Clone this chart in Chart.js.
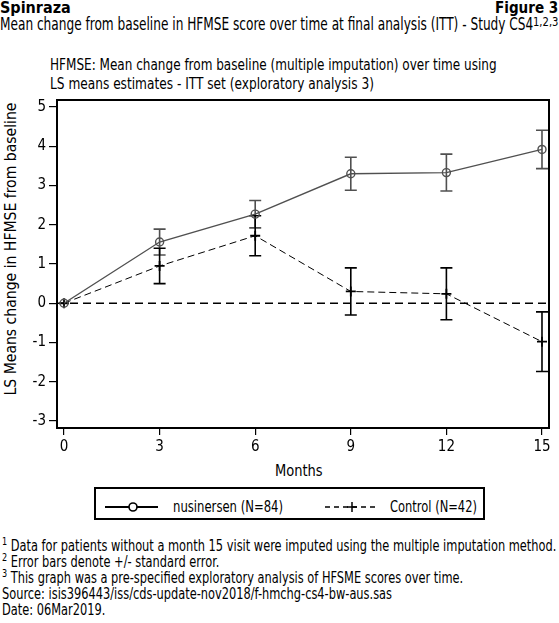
<!DOCTYPE html>
<html>
<head>
<meta charset="utf-8">
<script src="https://cdn.jsdelivr.net/npm/chart.js@4"></script>
<style>
  body { margin: 0; background: #fff; font-family: 'DejaVu Sans Condensed', 'Liberation Sans Narrow', sans-serif; color: #000; }
  #page { position: relative; width: 559px; height: 623px; overflow: hidden; }
  .t { position: absolute; white-space: nowrap; line-height: 1; transform-origin: left center; }
  #chartBox { position: absolute; left: 0; top: 88px; width: 559px; height: 395px; }
  #legend { position: absolute; left: 94px; top: 487px; width: 387px; height: 29px; border: 2px solid #000; }
  .sup { font-size: 11px; position: relative; top: -6px; }
</style>
</head>
<body>
<div id="page">
  <div class="t fit" data-w="71" style="left:0;top:0;font-weight:bold;font-size:16px;">Spinraza</div>
  <div class="t fit" data-w="63" style="right:1px;top:0;font-weight:bold;font-size:16px;transform-origin:right center;">Figure 3</div>
  <div class="t fit" data-w="533" style="left:0;top:15px;font-size:18px;">Mean change from baseline in HFMSE score over time at final analysis (ITT) - Study CS4</div>
  <div class="t fit" data-w="25" style="left:533px;top:16px;font-size:12px;">1,2,3</div>
  <div class="t fit" data-w="447" style="left:50px;top:57px;font-size:16px;">HFMSE: Mean change from baseline (multiple imputation) over time using</div>
  <div class="t fit" data-w="324" style="left:50px;top:76px;font-size:16px;">LS means estimates - ITT set (exploratory analysis 3)</div>
  <div class="t" id="ylab" style="left:11px;top:249px;font-size:16px;transform-origin:center;">LS Means change in HFMSE from baseline</div>
  <div class="t fit" data-w="48" style="left:275px;top:463px;font-size:16px;">Months</div>
  <div id="chartBox"><canvas id="chart"></canvas></div>
  <div id="legend">
    <svg width="387" height="29" style="position:absolute;left:0;top:0">
      <line x1="9" y1="18" x2="62" y2="18" stroke="#000" stroke-width="1.8"/>
      <circle cx="37" cy="18" r="4" fill="#fff" stroke="#000" stroke-width="1.6"/>
      <line x1="229" y1="18" x2="283" y2="18" stroke="#000" stroke-width="1.3" stroke-dasharray="5,4"/>
      <line x1="256" y1="13" x2="256" y2="23" stroke="#000" stroke-width="1.5"/>
      <line x1="251" y1="18" x2="261" y2="18" stroke="#000" stroke-width="1.5"/>
    </svg>
    <span class="t fit" data-w="110" style="left:77px;top:10px;font-size:16px;">nusinersen (N=84)</span>
    <span class="t fit" data-w="87" style="left:294px;top:10px;font-size:16px;">Control (N=42)</span>
  </div>
  <div class="t foot" id="foot1" style="left:2px;top:539px;font-size:15.5px;"><span class="sup">1</span> Data for patients without a month 15 visit were imputed using the multiple imputation method.</div>
  <div class="t foot" style="left:2px;top:555px;font-size:15.5px;"><span class="sup">2</span> Error bars denote +/- standard error.</div>
  <div class="t foot" style="left:2px;top:571px;font-size:15.5px;"><span class="sup">3</span> This graph was a pre-specified exploratory analysis of HFSME scores over time.</div>
  <div class="t foot" style="left:2px;top:587px;font-size:15.5px;">Source: isis396443/iss/cds-update-nov2018/f-hmchg-cs4-bw-aus.sas</div>
  <div class="t foot" style="left:2px;top:603px;font-size:15.5px;">Date: 06Mar2019.</div>
</div>
<script>
const months = [0, 3, 6, 9, 12, 15];
const xTicks = [0, 3, 6, 9, 12, 15];
const yTicks = [-3, -2, -1, 0, 1, 2, 3, 4, 5];

const nusMean = [0, 1.56, 2.27, 3.30, 3.33, 3.92];
const nusSE   = [0, 0.33, 0.35, 0.42, 0.47, 0.49];
const ctrlMean = [0, 0.95, 1.72, 0.30, 0.24, -0.98];
const ctrlSE   = [0, 0.45, 0.51, 0.60, 0.66, 0.76];

const nusColor = '#505050';
const ctrlColor = '#000000';

Chart.defaults.font.family = "'DejaVu Sans Condensed', 'Liberation Sans Narrow', sans-serif";
Chart.defaults.color = '#000';

function points(mean) {
  return months.map((m, i) => ({ x: m, y: mean[i] }));
}

// error bars + zero reference line + frame
const extras = {
  id: 'extras',
  beforeDatasetsDraw(chart) {
    const { ctx, chartArea: a, scales: { x, y } } = chart;
    ctx.save();
    ctx.strokeStyle = '#000';
    ctx.lineWidth = 1.5;
    ctx.setLineDash([8, 5]);
    const y0 = y.getPixelForValue(0);
    ctx.beginPath();
    ctx.moveTo(a.left, y0);
    ctx.lineTo(a.right, y0);
    ctx.stroke();
    ctx.setLineDash([]);

    const bars = [[nusMean, nusSE, nusColor], [ctrlMean, ctrlSE, ctrlColor]];
    bars.forEach(([mean, se, col]) => {
      ctx.strokeStyle = col;
      ctx.lineWidth = 1.6;
      months.forEach((m, i) => {
        if (!se[i]) return;
        const px = x.getPixelForValue(m);
        const top = y.getPixelForValue(mean[i] + se[i]);
        const bot = y.getPixelForValue(mean[i] - se[i]);
        ctx.beginPath();
        ctx.moveTo(px, top); ctx.lineTo(px, bot);
        ctx.moveTo(px - 6, top); ctx.lineTo(px + 6, top);
        ctx.moveTo(px - 6, bot); ctx.lineTo(px + 6, bot);
        ctx.stroke();
      });
    });
    ctx.restore();
  },
  afterDraw(chart) {
    const { ctx, chartArea: a } = chart;
    ctx.save();
    ctx.strokeStyle = '#000';
    ctx.lineWidth = 2;
    ctx.strokeRect(a.left, a.top, a.right - a.left, a.bottom - a.top);
    ctx.restore();
  }
};

new Chart(document.getElementById('chart'), {
  type: 'scatter',
  data: {
    datasets: [
      {
        label: 'nusinersen (N=84)',
        data: points(nusMean),
        showLine: true,
        borderColor: nusColor,
        borderWidth: 1.4,
        pointStyle: 'circle',
        pointRadius: 4,
        pointBorderWidth: 1.4,
        pointBorderColor: nusColor,
        pointBackgroundColor: 'rgba(0,0,0,0)'
      },
      {
        label: 'Control (N=42)',
        data: points(ctrlMean),
        showLine: true,
        borderColor: ctrlColor,
        borderWidth: 1,
        borderDash: [7, 4],
        pointStyle: 'cross',
        pointRadius: 5,
        pointBorderWidth: 1.8,
        pointBorderColor: ctrlColor
      }
    ]
  },
  options: {
    responsive: true,
    maintainAspectRatio: false,
    animation: false,
    layout: { padding: { top: 8, right: 10, left: 0, bottom: 0 } },
    plugins: { legend: { display: false }, tooltip: { enabled: false } },
    scales: {
      x: {
        type: 'linear',
        min: -0.22,
        max: 15.22,
        afterBuildTicks: s => { s.ticks = xTicks.map(v => ({ value: v })); },
        afterFit: s => { s.height = 55; },
        grid: { display: true, drawOnChartArea: false, drawTicks: true, tickLength: 7, color: '#000', lineWidth: 1.2 },
        border: { display: false },
        ticks: { font: { size: 15 }, padding: 3, maxRotation: 0 }
      },
      y: {
        min: -3.18,
        max: 5.18,
        afterBuildTicks: s => { s.ticks = yTicks.map(v => ({ value: v })); },
        afterFit: s => { s.width = 57; },
        grid: { display: true, drawOnChartArea: false, drawTicks: true, tickLength: 8, color: '#000', lineWidth: 1.2 },
        border: { display: false },
        ticks: { font: { size: 15 }, padding: 3 }
      }
    }
  },
  plugins: [extras]
});

// squeeze the text to the condensed widths of the original figure
document.querySelectorAll('.fit').forEach(el => {
  el.style.transform = 'scaleX(' + (el.dataset.w / el.offsetWidth) + ')';
});
const feet = document.querySelectorAll('.foot');
const footScale = 554 / document.getElementById('foot1').offsetWidth;
feet.forEach(el => { el.style.transform = 'scaleX(' + footScale + ')'; });
const ylab = document.getElementById('ylab');
ylab.style.transform = 'translate(-50%,-50%) rotate(-90deg) scaleX(' + (293 / ylab.offsetWidth) + ')';
</script>
</body>
</html>
